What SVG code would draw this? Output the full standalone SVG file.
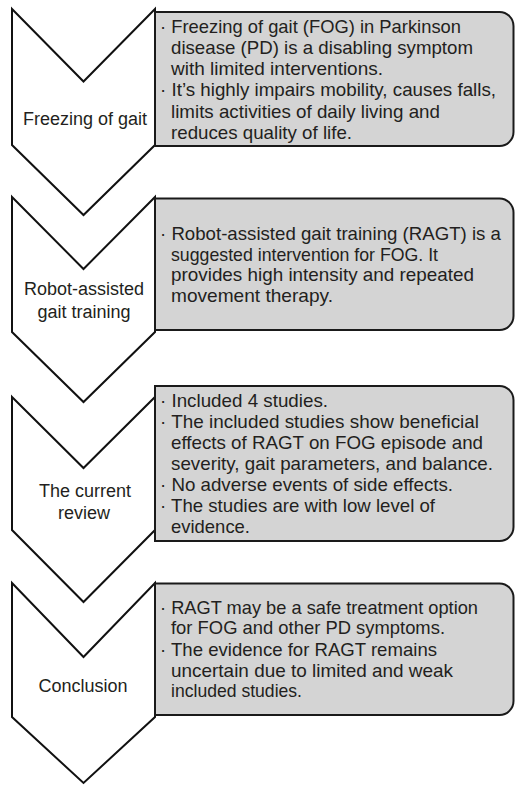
<svg xmlns="http://www.w3.org/2000/svg" width="515" height="786" viewBox="0 0 515 786">
<style>
.chev{fill:#ffffff;stroke:#111;stroke-width:2;stroke-linejoin:miter}
.box{fill:#d4d4d4;stroke:#1a1a1a;stroke-width:2}
.lbl{font-family:"Liberation Sans",Arial,sans-serif;font-size:18px;fill:#231f20;text-anchor:middle}
.txt{font-family:"Liberation Sans",Arial,sans-serif;font-size:19px;fill:#231f20}
</style>
<rect x="0" y="0" width="515" height="786" fill="#ffffff"/>
<g id="step1">
<path class="chev" d="M12,9 L83.5,81.5 L155,9 L155,145 L83.5,215 L12,145 Z"/>
<path class="box" d="M155,12 H499.5 A14,14 0 0 1 513.5,26 V132 A14,14 0 0 1 499.5,146 H155 Z"/>
<text class="lbl" x="85" y="124.5">Freezing of gait</text>
<text class="txt" x="160" y="33" textLength="301" lengthAdjust="spacingAndGlyphs">· Freezing of gait (FOG) in Parkinson</text>
<text class="txt" x="171" y="54" textLength="302" lengthAdjust="spacingAndGlyphs">disease (PD) is a disabling symptom</text>
<text class="txt" x="171" y="75" textLength="212" lengthAdjust="spacingAndGlyphs">with limited interventions.</text>
<text class="txt" x="160" y="96" textLength="336" lengthAdjust="spacingAndGlyphs">· It’s highly impairs mobility, causes falls,</text>
<text class="txt" x="171" y="117.5" textLength="269" lengthAdjust="spacingAndGlyphs">limits activities of daily living and</text>
<text class="txt" x="171" y="138.5" textLength="181" lengthAdjust="spacingAndGlyphs">reduces quality of life.</text>
</g>
<g id="step2">
<path class="chev" d="M12,197 L83.5,269 L155,197 L155,332 L83.5,402 L12,332 Z"/>
<path class="box" d="M155,198.5 H499.5 A14,14 0 0 1 513.5,212.5 V316 A14,14 0 0 1 499.5,330 H155 Z"/>
<text class="lbl" x="84" y="295">Robot-assisted</text>
<text class="lbl" x="84" y="317.5">gait training</text>
<text class="txt" x="160" y="240" textLength="341" lengthAdjust="spacingAndGlyphs">· Robot-assisted gait training (RAGT) is a</text>
<text class="txt" x="171" y="260.5" textLength="267" lengthAdjust="spacingAndGlyphs">suggested intervention for FOG. It</text>
<text class="txt" x="171" y="281" textLength="303" lengthAdjust="spacingAndGlyphs">provides high intensity and repeated</text>
<text class="txt" x="171" y="302" textLength="162" lengthAdjust="spacingAndGlyphs">movement therapy.</text>
</g>
<g id="step3">
<path class="chev" d="M12,397 L83.5,468 L155,397 L155,530 L83.5,602 L12,530 Z"/>
<path class="box" d="M155,386 H499.5 A14,14 0 0 1 513.5,400 V527 A14,14 0 0 1 499.5,541 H155 Z"/>
<text class="lbl" x="85" y="496.5">The current</text>
<text class="lbl" x="84" y="518.5">review</text>
<text class="txt" x="160" y="406.5" textLength="168" lengthAdjust="spacingAndGlyphs">· Included 4 studies.</text>
<text class="txt" x="160" y="428" textLength="319" lengthAdjust="spacingAndGlyphs">· The included studies show beneficial</text>
<text class="txt" x="171" y="449" textLength="312" lengthAdjust="spacingAndGlyphs">effects of RAGT on FOG episode and</text>
<text class="txt" x="171" y="470" textLength="322" lengthAdjust="spacingAndGlyphs">severity, gait parameters, and balance.</text>
<text class="txt" x="160" y="491" textLength="293" lengthAdjust="spacingAndGlyphs">· No adverse events of side effects.</text>
<text class="txt" x="160" y="511.5" textLength="275" lengthAdjust="spacingAndGlyphs">· The studies are with low level of</text>
<text class="txt" x="171" y="532.5" textLength="79" lengthAdjust="spacingAndGlyphs">evidence.</text>
</g>
<g id="step4">
<path class="chev" d="M12,583 L83.5,657 L155,583 L155,717 L83.5,783 L12,717 Z"/>
<path class="box" d="M155,583.5 H499.5 A14,14 0 0 1 513.5,597.5 V701 A14,14 0 0 1 499.5,715 H155 Z"/>
<text class="lbl" x="83" y="691.5">Conclusion</text>
<text class="txt" x="160" y="613.5" textLength="318" lengthAdjust="spacingAndGlyphs">· RAGT may be a safe treatment option</text>
<text class="txt" x="171" y="634" textLength="274" lengthAdjust="spacingAndGlyphs">for FOG and other PD symptoms.</text>
<text class="txt" x="160" y="655.5" textLength="277" lengthAdjust="spacingAndGlyphs">· The evidence for RAGT remains</text>
<text class="txt" x="171" y="676.5" textLength="282" lengthAdjust="spacingAndGlyphs">uncertain due to limited and weak</text>
<text class="txt" x="171" y="697" textLength="131" lengthAdjust="spacingAndGlyphs">included studies.</text>
</g>
</svg>
